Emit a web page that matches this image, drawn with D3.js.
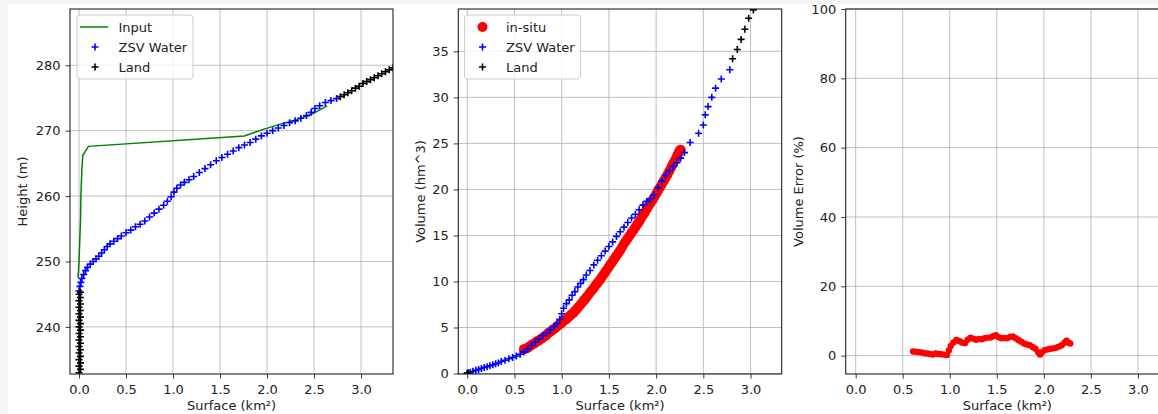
<!DOCTYPE html>
<html>
<head>
<meta charset="utf-8">
<script src="https://cdn.jsdelivr.net/npm/d3@7"></script>
<style>
  html, body { margin: 0; padding: 0; background: #f4f4f4; }
  svg { display: block; font-family: "DejaVu Sans", sans-serif; }
</style>
</head>
<body>
<svg width="1158" height="414"></svg>
<script>
// ---- data ----
const xTicks = [0, 0.5, 1.0, 1.5, 2.0, 2.5, 3.0]
const heightTicks = [240, 250, 260, 270, 280]
const volumeTicks = [0, 5, 10, 15, 20, 25, 30, 35]
const errorTicks = [0, 20, 40, 60, 80, 100]

// panel 1 : height vs surface
const inputS = [-0.01, 0.0, 0.01, 0.015, 0.02, 0.03, 0.04, 0.1, 1.76, 1.96, 2.14, 2.32, 2.49, 2.64]
const inputH = [247.5, 250, 254, 256, 260, 264, 266.2, 267.6, 269.2, 270.2, 271.0, 271.7, 272.6, 273.8]

const zsvS = [0.00, 0.01, 0.02, 0.03, 0.05, 0.07, 0.09, 0.12, 0.15, 0.18, 0.21, 0.24, 0.27, 0.30,
  0.33, 0.37, 0.41, 0.45, 0.50, 0.55, 0.60, 0.65, 0.70, 0.75, 0.80, 0.85, 0.90, 0.94, 0.98, 1.01,
  1.04, 1.08, 1.12, 1.17, 1.22, 1.28, 1.34, 1.40, 1.46, 1.52, 1.58, 1.64, 1.70, 1.76, 1.82, 1.88,
  1.94, 2.00, 2.06, 2.12, 2.18, 2.24, 2.30, 2.36, 2.42, 2.47, 2.51, 2.56, 2.62, 2.68, 2.74]
const zsvH = [245.5, 246.2, 246.8, 247.4, 248.0, 248.6, 249.1, 249.6, 250.0, 250.4, 250.8, 251.3, 251.8, 252.3,
  252.7, 253.1, 253.5, 253.9, 254.4, 254.8, 255.3, 255.7, 256.2, 256.8, 257.4, 258.0, 258.6, 259.2, 259.9, 260.6,
  261.2, 261.7, 262.1, 262.5, 263.0, 263.6, 264.2, 264.8, 265.4, 265.9, 266.4, 266.9, 267.4, 267.8, 268.2, 268.7,
  269.2, 269.6, 270.0, 270.4, 270.8, 271.2, 271.5, 271.9, 272.3, 272.8, 273.4, 273.8, 274.3, 274.6, 274.9]

const landS = [0.0, 0.015, 0.0, 0.015, 0.0, 0.015, 0.0, 0.015, 0.0, 0.015, 0.0, 0.015, 0.0, 0.015, 0.0, 0.015,
  0.0, 0.015, 0.0, 0.015, 0.0, 0.015, 0.0, 0.015, 0.0, 0.015,
  2.78, 2.82, 2.86, 2.90, 2.94, 2.98, 3.02, 3.06, 3.10, 3.14, 3.18, 3.22, 3.26, 3.30, 3.34]
const landH = [233.0, 233.5, 234.0, 234.5, 235.0, 235.5, 236.0, 236.5, 237.0, 237.5, 238.0, 238.5, 239.0, 239.5, 240.0, 240.5,
  241.0, 241.5, 242.0, 242.5, 243.0, 243.5, 244.0, 244.5, 245.0, 245.3,
  275.2, 275.5, 275.8, 276.1, 276.5, 276.8, 277.2, 277.5, 277.8, 278.1, 278.4, 278.7, 279.0, 279.3, 279.6]

// panel 2 : volume vs surface
const insituS = [0.60, 0.62, 0.64, 0.66, 0.68, 0.70, 0.72, 0.74, 0.76, 0.78, 0.80, 0.82, 0.84, 0.86,
  0.88, 0.90, 0.92, 0.94, 0.96, 0.98, 1.00, 1.02, 1.04, 1.06, 1.08, 1.10, 1.12, 1.14, 1.16, 1.18,
  1.20, 1.22, 1.24, 1.26, 1.28, 1.30, 1.32, 1.34, 1.36, 1.38, 1.40, 1.42, 1.44, 1.46, 1.48, 1.50,
  1.52, 1.54, 1.56, 1.58, 1.60, 1.62, 1.64, 1.66, 1.68, 1.70, 1.72, 1.74, 1.76, 1.78, 1.80, 1.82,
  1.84, 1.86, 1.88, 1.90, 1.92, 1.94, 1.96, 1.98, 2.00, 2.02, 2.04, 2.06, 2.08, 2.10, 2.12, 2.14,
  2.16, 2.18, 2.20, 2.22, 2.23, 2.24, 2.25, 2.26]
const insituV = [2.65, 2.7, 2.8, 2.95, 3.1, 3.2, 3.35, 3.5, 3.6, 3.75, 3.9, 4.05, 4.2, 4.4,
  4.55, 4.7, 4.85, 5.0, 5.2, 5.35, 5.5, 5.7, 5.85, 6.0, 6.2, 6.4, 6.55, 6.8, 7.0, 7.25,
  7.5, 7.75, 8.0, 8.25, 8.5, 8.8, 9.05, 9.3, 9.6, 9.85, 10.1, 10.4, 10.7, 11.0, 11.3, 11.6,
  11.9, 12.2, 12.5, 12.8, 13.1, 13.4, 13.75, 14.1, 14.4, 14.7, 15.0, 15.3, 15.6, 15.9, 16.2, 16.5,
  16.85, 17.2, 17.5, 17.85, 18.2, 18.5, 18.8, 19.15, 19.5, 19.85, 20.2, 20.55, 20.9, 21.25, 21.6, 22.0,
  22.4, 22.8, 23.2, 23.6, 23.8, 24.0, 24.2, 24.3]

const zsvVolS = [0.00, 0.03, 0.06, 0.09, 0.12, 0.15, 0.18, 0.21, 0.24, 0.27, 0.30, 0.33, 0.36, 0.40,
  0.44, 0.48, 0.52, 0.56, 0.60, 0.64, 0.68, 0.72, 0.76, 0.80, 0.84, 0.88, 0.92, 0.95, 0.98, 1.00,
  1.02, 1.05, 1.08, 1.11, 1.14, 1.17, 1.20, 1.23, 1.26, 1.30, 1.34, 1.38, 1.42, 1.46, 1.50, 1.54,
  1.58, 1.62, 1.66, 1.70, 1.74, 1.78, 1.82, 1.86, 1.90, 1.94, 1.98, 2.02, 2.06, 2.10, 2.14, 2.18,
  2.22, 2.26, 2.30, 2.36, 2.45, 2.50, 2.52, 2.55, 2.59, 2.63, 2.69, 2.78]
const zsvVolV = [0.05, 0.15, 0.25, 0.35, 0.45, 0.55, 0.65, 0.75, 0.85, 0.95, 1.05, 1.15, 1.3, 1.45,
  1.6, 1.75, 1.9, 2.1, 2.35, 2.7, 3.05, 3.4, 3.75, 4.1, 4.4, 4.75, 5.1, 5.45, 5.9, 6.5,
  7.1, 7.6, 8.0, 8.5, 8.9, 9.4, 9.8, 10.2, 10.7, 11.2, 11.8, 12.3, 12.8, 13.3, 13.8, 14.3,
  14.9, 15.4, 15.9, 16.4, 16.9, 17.3, 17.8, 18.3, 18.7, 19.0, 19.4, 20.2, 20.9, 21.5, 22.0, 22.5,
  22.9, 23.4, 24.0, 25.1, 26.1, 27.0, 28.1, 29.0, 30.0, 31.0, 32.0, 33.0]

const landVolS = [0.0, 0.01, 2.81, 2.86, 2.90, 2.94, 2.98, 3.03]
const landVolV = [0.0, 0.05, 34.2, 35.2, 36.3, 37.4, 38.6, 39.5]

// panel 3 : volume error vs surface
const errS = [0.61, 0.64, 0.67, 0.70, 0.73, 0.76, 0.79, 0.82, 0.85, 0.88, 0.91, 0.94, 0.97, 0.99,
  1.01, 1.04, 1.07, 1.10, 1.13, 1.16, 1.19, 1.22, 1.25, 1.28, 1.31, 1.34, 1.37, 1.40, 1.43, 1.46,
  1.49, 1.52, 1.55, 1.58, 1.61, 1.64, 1.67, 1.70, 1.73, 1.76, 1.79, 1.82, 1.85, 1.88, 1.91, 1.94,
  1.96, 1.98, 2.01, 2.04, 2.07, 2.10, 2.13, 2.16, 2.19, 2.22, 2.24, 2.26, 2.28]
const errE = [1.2, 1.1, 1.0, 0.9, 0.7, 0.6, 0.5, 0.3, 0.6, 0.5, 0.4, 0.3, 0.2, 1.5,
  2.8, 3.8, 4.5, 4.2, 3.8, 3.6, 4.6, 5.2, 4.9, 4.6, 4.8, 4.7, 5.0, 5.2, 5.2, 5.6,
  5.9, 5.3, 5.0, 5.1, 5.0, 5.4, 5.5, 5.0, 4.5, 4.0, 3.5, 3.2, 3.0, 2.5, 2.0, 1.0,
  0.3, 1.0, 1.6, 1.8, 2.0, 2.1, 2.3, 2.6, 3.0, 3.7, 4.3, 3.8, 3.5]

// ---- drawing ----
const svg = d3.select('svg')
svg.append('rect').attr('x', 8).attr('y', 4).attr('width', 1150).attr('height', 410).attr('fill', '#fff')

const zip = (a, b) => a.map((v, i) => [v, b[i]])
const plus = 'M-3.5,0H3.5M0,-3.5V3.5'

const panels = [
  { left: 70, right: 393, xDom: [-0.096, 3.34], yDom: [232.8, 288.6], yTicks: heightTicks, yLabel: 'Height (m)', yLabelX: 22 },
  { left: 458.3, right: 781.7, xDom: [-0.095, 3.33], yDom: [-0.05, 39.6], yTicks: volumeTicks, yLabel: 'Volume (hm^3)', yLabelX: 420 },
  { left: 845.7, right: 1169, xDom: [-0.106, 3.33], yDom: [-5.3, 100], yTicks: errorTicks, yLabel: 'Volume Error (%)', yLabelX: 798 },
]
const plotTop = 9, plotBottom = 374

panels.forEach((p, i) => {
  p.x = d3.scaleLinear().domain(p.xDom).range([p.left, p.right])
  p.y = d3.scaleLinear().domain(p.yDom).range([plotBottom, plotTop])
  const g = svg.append('g')
  p.g = g

  g.append('clipPath').attr('id', 'clip' + i)
    .append('rect').attr('x', p.left).attr('y', plotTop)
    .attr('width', p.right - p.left).attr('height', plotBottom - plotTop)

  // grid
  const grid = g.append('g').attr('stroke', '#b0b0b0').attr('stroke-width', 0.8)
  xTicks.forEach(t => grid.append('line')
    .attr('x1', p.x(t)).attr('x2', p.x(t)).attr('y1', plotTop).attr('y2', plotBottom))
  p.yTicks.forEach(t => grid.append('line')
    .attr('x1', p.left).attr('x2', p.right).attr('y1', p.y(t)).attr('y2', p.y(t)))

  p.data = g.append('g').attr('clip-path', `url(#clip${i})`)

  // axes
  const ax = g.append('g').attr('transform', `translate(0,${plotBottom})`)
    .call(d3.axisBottom(p.x).tickValues(xTicks).tickFormat(d3.format('.1f')).tickSize(4.5).tickPadding(6))
  const ay = g.append('g').attr('transform', `translate(${p.left},0)`)
    .call(d3.axisLeft(p.y).tickValues(p.yTicks).tickSize(4.5).tickPadding(5))
  ;[ax, ay].forEach(a => {
    a.select('.domain').remove()
    a.selectAll('line').attr('stroke', '#222').attr('stroke-width', 0.9)
    a.selectAll('text').attr('font-size', 13).attr('fill', '#222').attr('font-family', '"DejaVu Sans", sans-serif')
  })

  g.append('text').attr('x', (p.left + p.right) / 2).attr('y', 410)
    .attr('text-anchor', 'middle').attr('font-size', 13).attr('fill', '#222')
    .text('Surface (km²)')
  g.append('text').attr('transform', `translate(${p.yLabelX},${(plotTop + plotBottom) / 2}) rotate(-90)`)
    .attr('text-anchor', 'middle').attr('dominant-baseline', 'central')
    .attr('font-size', 13).attr('fill', '#222').text(p.yLabel)
})

const drawPlus = (p, pts, color) => p.data.append('g').selectAll('path').data(pts).join('path')
  .attr('d', plus).attr('transform', d => `translate(${p.x(d[0])},${p.y(d[1])})`)
  .attr('stroke', color).attr('stroke-width', 1.6).attr('fill', 'none')
const drawDots = (p, pts, r) => p.data.append('g').selectAll('circle').data(pts).join('circle')
  .attr('cx', d => p.x(d[0])).attr('cy', d => p.y(d[1])).attr('r', r).attr('fill', 'red')

// panel 1
const p1 = panels[0]
p1.data.append('path').datum(zip(inputS, inputH))
  .attr('d', d3.line().x(d => p1.x(d[0])).y(d => p1.y(d[1])))
  .attr('fill', 'none').attr('stroke', 'green').attr('stroke-width', 1.5)
drawPlus(p1, zip(zsvS, zsvH), 'blue')
drawPlus(p1, zip(landS, landH), 'black')

// panel 2
const p2 = panels[1]
drawDots(p2, zip(insituS, insituV), 5)
drawPlus(p2, zip(zsvVolS, zsvVolV), 'blue')
drawPlus(p2, zip(landVolS, landVolV), 'black')

// panel 3
const p3 = panels[2]
drawDots(p3, zip(errS, errE), 3.2)

// frames
panels.forEach(p => p.g.append('rect')
  .attr('x', p.left).attr('y', plotTop).attr('width', p.right - p.left).attr('height', plotBottom - plotTop)
  .attr('fill', 'none').attr('stroke', '#222').attr('stroke-width', 1.1))

// legends
const legend = (x, entries) => {
  const lg = svg.append('g').attr('transform', `translate(${x},15)`)
  lg.append('rect').attr('width', 116).attr('height', 64).attr('rx', 3)
    .attr('fill', '#fff').attr('fill-opacity', 0.8).attr('stroke', '#cccccc')
  entries.forEach((e, k) => {
    const cy = 12 + k * 20
    if (e.kind === 'line') {
      lg.append('line').attr('x1', 3).attr('x2', 31).attr('y1', cy).attr('y2', cy)
        .attr('stroke', e.color).attr('stroke-width', 1.5)
    } else if (e.kind === 'dot') {
      lg.append('circle').attr('cx', 18).attr('cy', cy).attr('r', 5).attr('fill', e.color)
    } else {
      lg.append('path').attr('d', plus).attr('transform', `translate(18,${cy})`)
        .attr('stroke', e.color).attr('stroke-width', 1.6)
    }
    lg.append('text').attr('x', 41.5).attr('y', cy).attr('dominant-baseline', 'central')
      .attr('font-size', 13).attr('fill', '#222').text(e.label)
  })
}
legend(77, [
  { kind: 'line', color: 'green', label: 'Input' },
  { kind: 'plus', color: 'blue', label: 'ZSV Water' },
  { kind: 'plus', color: 'black', label: 'Land' },
])
legend(464.5, [
  { kind: 'dot', color: 'red', label: 'in-situ' },
  { kind: 'plus', color: 'blue', label: 'ZSV Water' },
  { kind: 'plus', color: 'black', label: 'Land' },
])
</script>
</body>
</html>
